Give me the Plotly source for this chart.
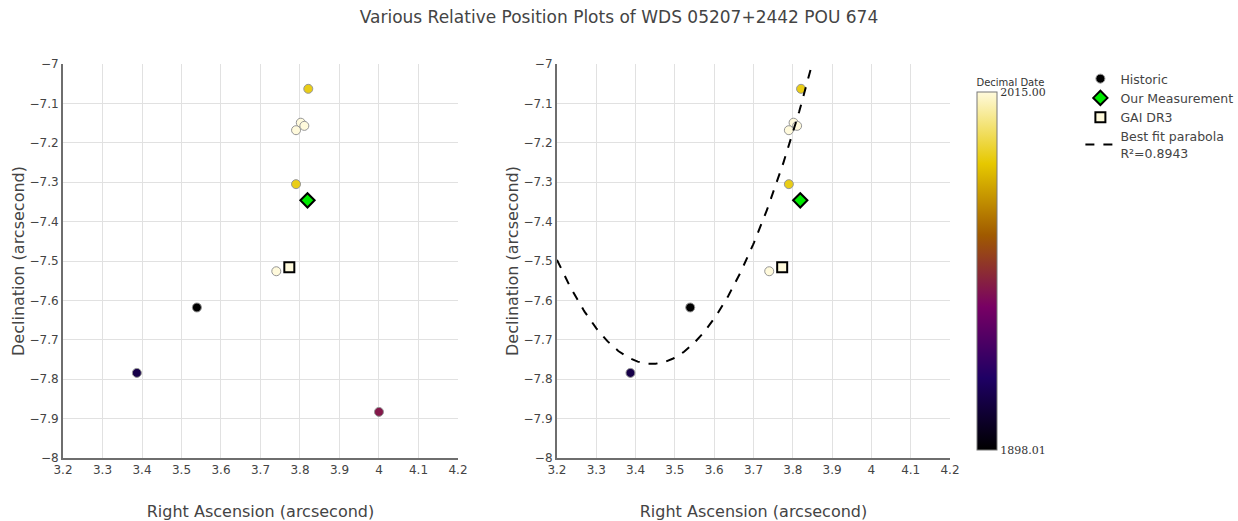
import numpy as np
import plotly.graph_objects as go

# Historic measurements (RA, Dec in arcsec, decimal date)
hist_ra = [3.539, 3.387, 4.000, 3.821, 3.802, 3.811, 3.790, 3.790, 3.740]
hist_dec = [-7.618, -7.784, -7.883, -7.063, -7.149, -7.157, -7.168, -7.305, -7.526]
hist_date = [1898.01, 1915.0, 1951.0, 1994.0, 2015.0, 2015.0, 2015.0, 1994.0, 2015.0]
# Points used in the fit panel (outlier excluded)
fit_mask = [True, True, False, True, True, True, True, True, True]

our_ra = [3.819]
our_dec = [-7.346]

gaia_ra = [3.773]
gaia_dec = [-7.516]

# Best fit parabola (vertex form): dec = a*(ra-h)^2 + k
fit_a = 4.545
fit_h = 3.441
fit_k = -7.761
fit_label = "Best fit parabola<br>R²=0.8943"

date_min = 1898.01
date_max = 2015.00

xticks = [3.2, 3.3, 3.4, 3.5, 3.6, 3.7, 3.8, 3.9, 4.0, 4.1, 4.2]
yticks = [-7.0, -7.1, -7.2, -7.3, -7.4, -7.5, -7.6, -7.7, -7.8, -7.9, -8.0]

FONT = "DejaVu Sans, Verdana, sans-serif"

fig = go.Figure()

def add_panel(xa, ya, mask, showlegend, showscale):
    ra = [r for r, m in zip(hist_ra, mask) if m]
    de = [d for d, m in zip(hist_dec, mask) if m]
    dt = [t for t, m in zip(hist_date, mask) if m]
    marker = dict(
        size=9, color=dt, colorscale="Electric", cmin=date_min, cmax=date_max,
        line=dict(color="rgb(150,150,150)", width=1), symbol="circle",
        showscale=showscale,
    )
    if showscale:
        marker["colorbar"] = dict(
            title=dict(text="Decimal Date", font=dict(size=10, family=FONT, color="#333"), side="top"),
            x=1.0304, xanchor="left", y=0.0203, yanchor="bottom",
            len=0.95, lenmode="fraction", thickness=20, thicknessmode="pixels",
            outlinecolor="rgb(120,120,120)", outlinewidth=1,
            tickvals=[date_min, date_max], tickformat=".2f",
            tickfont=dict(size=11, family="DejaVu Serif, serif", color="#333"),
            ticks="", xpad=0, ypad=0,
        )
    fig.add_trace(go.Scatter(x=ra, y=de, mode="markers", name="Historic",
                             marker=marker, xaxis=xa, yaxis=ya, showlegend=showlegend))
    fig.add_trace(go.Scatter(x=our_ra, y=our_dec, mode="markers", name="Our Measurement",
                             marker=dict(symbol="diamond", size=11, color="rgb(0,235,0)",
                                         line=dict(color="black", width=2)),
                             xaxis=xa, yaxis=ya, showlegend=showlegend))
    fig.add_trace(go.Scatter(x=gaia_ra, y=gaia_dec, mode="markers", name="GAI DR3",
                             marker=dict(symbol="square", size=10, color="rgb(255,250,220)",
                                         line=dict(color="black", width=2)),
                             xaxis=xa, yaxis=ya, showlegend=showlegend))

add_panel("x", "y", [True] * len(hist_ra), False, False)
add_panel("x2", "y2", fit_mask, True, True)

xs = np.linspace(xticks[0], xticks[-1], 400)
ys = fit_a * (xs - fit_h) ** 2 + fit_k
fig.add_trace(go.Scatter(x=xs, y=ys, mode="lines", name=fit_label,
                         line=dict(color="black", width=2, dash="dash"),
                         xaxis="x2", yaxis="y2"))

axis_common = dict(
    showgrid=True, gridcolor="rgb(225,225,225)", gridwidth=1,
    showline=True, linecolor="rgb(110,110,110)", linewidth=2,
    zeroline=False, ticks="", automargin=False,
    tickfont=dict(size=12, family=FONT, color="#444"),
)
xcommon = dict(axis_common, range=[3.2, 4.2], tickvals=xticks,
               ticktext=[f"{v:g}" for v in xticks],
               title=dict(text="Right Ascension (arcsecond)", font=dict(size=16, family=FONT, color="#444"), standoff=30))
ycommon = dict(axis_common, range=[-8, -7], tickvals=yticks,
               ticktext=[f"{v:g}".replace("-", "\u2212") for v in yticks],
               title=dict(text="Declination (arcsecond)", font=dict(size=16, family=FONT, color="#444"), standoff=1))

fig.update_layout(
    width=1238, height=521,
    margin=dict(l=63, r=288, t=64, b=63, autoexpand=False),
    paper_bgcolor="white", plot_bgcolor="white",
    font=dict(family=FONT, color="#444"),
    title=dict(text="Various Relative Position Plots of WDS 05207+2442 POU 674",
               x=0.5, xanchor="center", y=0.967, yanchor="middle",
               font=dict(size=17, family=FONT, color="#444")),
    xaxis=dict(xcommon, domain=[0, 0.4453], anchor="y"),
    yaxis=dict(ycommon, domain=[0, 1], anchor="x"),
    xaxis2=dict(xcommon, domain=[0.5569, 1], anchor="y2"),
    yaxis2=dict(ycommon, domain=[0, 1], anchor="x2"),
    legend=dict(x=1.147, xanchor="left", y=1.0, yanchor="top",
                font=dict(size=12.5, family=FONT, color="#444"),
                bgcolor="rgba(0,0,0,0)", tracegroupgap=0),
    showlegend=True,
)

fig.write_html("out.html", config={"displayModeBar": False},
               post_script="document.body.style.margin='0';document.body.style.overflow='hidden';")
